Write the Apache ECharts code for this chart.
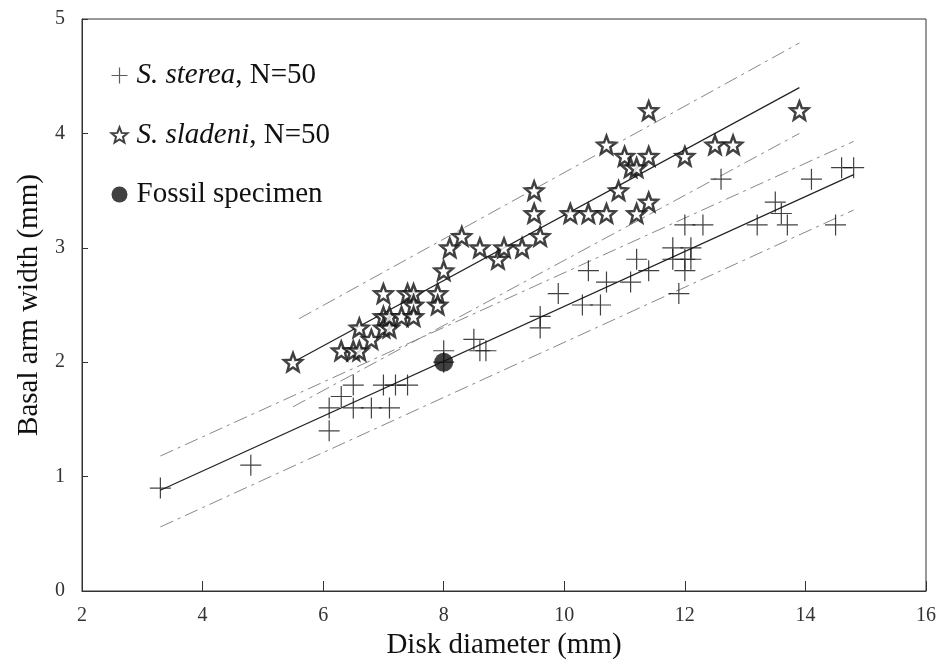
<!DOCTYPE html>
<html>
<head>
<meta charset="utf-8">
<script src="https://cdn.jsdelivr.net/npm/echarts@6/dist/echarts.min.js"></script>
<style>html,body{margin:0;padding:0;background:#fff;}#c{width:941px;height:662px;}</style>
</head>
<body>
<div id="c"></div>
<script>
// ---- data ----
var xTicks = [2, 4, 6, 8, 10, 12, 14, 16];
var yTicks = [0, 1, 2, 3, 4, 5];

var stereaPoints = [
  [3.3,0.9],[4.8,1.1],[6.1,1.4],[6.1,1.6],[6.3,1.7],[6.5,1.8],[6.5,1.6],[6.8,1.6],
  [7.0,1.8],[7.1,1.6],[7.2,1.8],[7.4,1.8],[8.0,2.1],[8.0,2.0],[8.5,2.2],[8.6,2.1],
  [8.7,2.1],[9.6,2.4],[9.6,2.3],[9.9,2.6],[10.3,2.5],[10.6,2.5],[10.4,2.8],[10.7,2.7],
  [11.1,2.7],[11.2,2.9],[11.4,2.8],[11.9,2.6],[11.8,3.0],[11.8,2.9],[12.0,2.9],[12.1,2.9],
  [12.1,3.0],[12.0,2.8],[12.0,3.2],[12.3,3.2],[12.6,3.6],[13.2,3.2],[13.5,3.4],[13.6,3.3],
  [13.7,3.2],[14.1,3.6],[14.5,3.2],[14.6,3.7],[14.8,3.7]
];
var sladeniPoints = [
  [5.5,2.0],[6.3,2.1],[6.5,2.1],[6.6,2.1],[6.6,2.3],[6.8,2.2],[7.0,2.6],[7.0,2.4],
  [7.0,2.3],[7.1,2.3],[7.1,2.4],[7.3,2.4],[7.4,2.6],[7.5,2.6],[7.5,2.5],[7.5,2.4],
  [7.9,2.6],[7.9,2.5],[8.0,2.8],[8.1,3.0],[8.3,3.1],[8.6,3.0],[8.9,2.9],[9.0,3.0],
  [9.3,3.0],[9.5,3.5],[9.5,3.3],[9.6,3.1],[10.1,3.3],[10.4,3.3],[10.7,3.3],[10.7,3.9],
  [10.9,3.5],[11.0,3.8],[11.1,3.7],[11.2,3.7],[11.2,3.3],[11.4,3.4],[11.4,3.8],[11.4,4.2],
  [12.0,3.8],[12.5,3.9],[12.8,3.9],[13.9,4.2]
];
var fossilPoint = [[8.0, 2.0]];

var stereaFit   = [[3.3,0.88],[14.8,3.64]];
var stereaUpper = [[3.3,1.18],[14.8,3.93]];
var stereaLower = [[3.3,0.56],[14.8,3.33]];
var sladeniFit   = [[5.5,2.0],[13.9,4.4]];
var sladeniUpper = [[5.6,2.38],[13.9,4.79]];
var sladeniLower = [[5.5,1.61],[13.9,4.0]];

var legendNames = ['S. sterea, N=50', 'S. sladeni, N=50', 'Fossil specimen'];
var legendItalic = ['S. sterea', 'S. sladeni', ''];
var legendRest = [', N=50', ', N=50', 'Fossil specimen'];

// ---- symbols ----
var crossPath = 'path://M0,10L20,10M10,0L10,20';
function starPath() {
  var pts = [];
  for (var i = 0; i < 10; i++) {
    var r = (i % 2 === 0) ? 10 : 4.3;
    var a = -Math.PI / 2 + i * Math.PI / 5;
    pts.push((10 + r * Math.cos(a)).toFixed(3) + ',' + (10 + r * Math.sin(a)).toFixed(3));
  }
  return 'path://M' + pts.join('L') + 'Z';
}
var starSym = starPath();

var serif = '"Liberation Serif", "DejaVu Serif", serif';
var dashType = [14, 5, 3, 5];

var chart = echarts.init(document.getElementById('c'));
function lineSeries(data, solid) {
  return {
    type: 'line', data: data, symbol: 'none', silent: true, z: 1,
    lineStyle: solid ? { color: '#222', width: 1.2 } : { color: '#888', width: 1, type: dashType },
    animation: false
  };
}
chart.setOption({
  animation: false,
  backgroundColor: '#fff',
  grid: { left: 82, right: 15, top: 19, bottom: 71, show: true, borderColor: '#333', borderWidth: 1,
          containLabel: false, outerBoundsMode: 'none' },
  legend: {
    orient: 'vertical', left: 104, top: 56, itemGap: 30.5, itemWidth: 16, itemHeight: 16,
    data: [
      { name: legendNames[0], icon: crossPath, itemStyle: { color: 'none', borderColor: '#333', borderWidth: 1.2 } },
      { name: legendNames[1], icon: starSym, itemStyle: { color: '#fff', borderColor: '#111', borderWidth: 2 } },
      { name: legendNames[2], icon: 'circle', itemStyle: { color: '#111' } }
    ],
    formatter: function (name) {
      var i = legendNames.indexOf(name);
      if (legendItalic[i]) return '{i|' + legendItalic[i] + '}{n|' + legendRest[i] + '}';
      return '{n|' + legendRest[i] + '}';
    },
    textStyle: {
      fontFamily: serif, fontSize: 29, color: '#111', padding: [0, 0, 0, 4],
      rich: {
        i: { fontFamily: serif, fontSize: 29, fontStyle: 'italic', color: '#111' },
        n: { fontFamily: serif, fontSize: 29, color: '#111' }
      }
    }
  },
  xAxis: {
    type: 'value', min: xTicks[0], max: xTicks[xTicks.length - 1], interval: 2,
    name: 'Disk diameter (mm)', nameLocation: 'middle', nameGap: 40,
    nameTextStyle: { fontFamily: serif, fontSize: 29, color: '#111' },
    axisLine: { lineStyle: { color: '#333' } },
    axisTick: { inside: true, length: 10, lineStyle: { color: '#333' } },
    axisLabel: { fontFamily: serif, fontSize: 20, color: '#333', margin: 15 },
    splitLine: { show: false }
  },
  yAxis: {
    type: 'value', min: yTicks[0], max: yTicks[yTicks.length - 1], interval: 1,
    name: 'Basal arm width (mm)', nameLocation: 'middle', nameGap: 37,
    nameTextStyle: { fontFamily: serif, fontSize: 29, color: '#111' },
    axisLine: { show: true, lineStyle: { color: '#333' } },
    axisTick: { show: true, inside: true, length: 6, lineStyle: { color: '#333' } },
    axisLabel: { fontFamily: serif, fontSize: 20, color: '#333', margin: 17 },
    splitLine: { show: false }
  },
  series: [
    lineSeries(stereaUpper, false), lineSeries(stereaLower, false),
    lineSeries(sladeniUpper, false), lineSeries(sladeniLower, false),
    lineSeries(stereaFit, true), lineSeries(sladeniFit, true),
    {
      name: legendNames[0], type: 'scatter', data: stereaPoints, symbol: crossPath, symbolSize: 21, z: 3,
      itemStyle: { color: 'none', borderColor: '#111', borderWidth: 1.2 }
    },
    {
      name: legendNames[1], type: 'scatter', data: sladeniPoints, symbol: starSym, symbolSize: 18, z: 4,
      itemStyle: { color: '#fff', borderColor: '#111', borderWidth: 2.5 }
    },
    {
      name: legendNames[2], type: 'scatter', data: fossilPoint, symbol: 'circle', symbolSize: 19, z: 5,
      itemStyle: { color: '#111' }
    }
  ]
});
</script>
</body>
</html>
